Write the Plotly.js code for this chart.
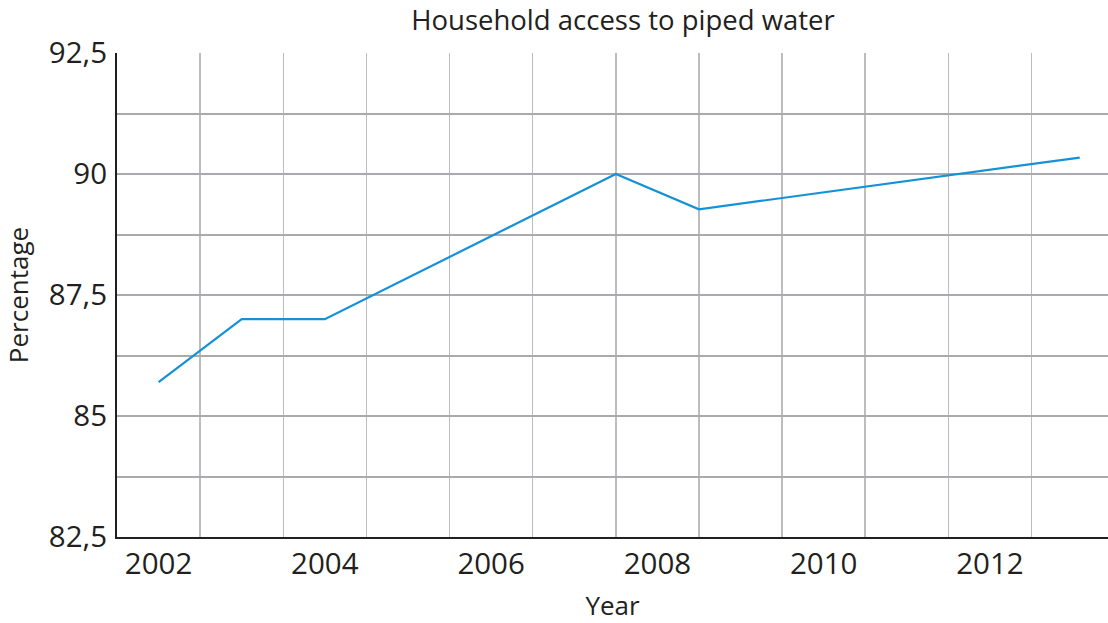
<!DOCTYPE html>
<html>
<head>
<meta charset="utf-8">
<script src="https://cdn.plot.ly/plotly-3.0.1.min.js"></script>
<style>
  html, body { margin: 0; padding: 0; background: #ffffff; }
  #chart { width: 1108px; height: 623px; }
</style>
</head>
<body>
<div id="chart"></div>
<script>
// Share of households with access to piped water, by survey year
const years = [2002, 2003, 2004, 2007.5, 2008.5, 2013.08];
const accessPct = [85.7, 87.0, 87.0, 90.0, 89.27, 90.34];

// Axis labelling
const xTickVals = [2002, 2004, 2006, 2008, 2010, 2012];
const xTickText = ['2002', '2004', '2006', '2008', '2010', '2012'];
const yTickVals = [82.5, 85, 87.5, 90, 92.5];
const yTickText = ['82,5', '85', '87,5', '90', '92,5'];

const ink = '#231f20';
const font = 'Open Sans, Noto Sans, sans-serif';

const trace = {
  x: years,
  y: accessPct,
  type: 'scatter',
  mode: 'lines',
  line: { color: '#1591d6', width: 2.2 },
  hoverinfo: 'x+y'
};

const layout = {
  width: 1108,
  height: 623,
  margin: { l: 117, r: 0, t: 53, b: 86, pad: 0 },
  paper_bgcolor: '#ffffff',
  plot_bgcolor: '#ffffff',
  showlegend: false,
  font: { family: font, color: ink },
  title: {
    text: 'Household access to piped water',
    font: { family: font, size: 27.5, color: ink },
    xref: 'container', yref: 'container',
    x: 623 / 1108, xanchor: 'center',
    y: 1 - 20 / 623, yanchor: 'middle'
  },
  xaxis: {
    range: [2001.5, 2013.42],
    tickmode: 'array',
    tickvals: xTickVals,
    ticktext: xTickText,
    ticks: '',
    ticklabelstandoff: 0,
    tickfont: { family: font, size: 29.5, color: ink },
    showgrid: false,
    zeroline: false,
    showline: true,
    linecolor: ink,
    linewidth: 2,
    minor: {
      tick0: 2001.5,
      dtick: 1,
      ticks: '',
      showgrid: true,
      gridcolor: '#bdbdbf',
      gridwidth: 1.5
    },
    title: {
      text: 'Year',
      font: { family: font, size: 26, color: ink },
      standoff: 20
    },
    automargin: false,
    fixedrange: true
  },
  yaxis: {
    range: [82.5, 92.5],
    tickmode: 'array',
    tickvals: yTickVals,
    ticktext: yTickText,
    ticks: '',
    ticklabelstandoff: 2,
    tickfont: { family: font, size: 29.5, color: ink },
    showgrid: true,
    gridcolor: '#aaaaae',
    gridwidth: 2,
    zeroline: false,
    showline: true,
    linecolor: ink,
    linewidth: 2,
    minor: {
      tick0: 82.5,
      dtick: 1.25,
      ticks: '',
      showgrid: true,
      gridcolor: '#aaaaae',
      gridwidth: 2
    },
    title: {
      text: 'Percentage',
      font: { family: font, size: 26, color: ink },
      standoff: 15
    },
    automargin: false,
    fixedrange: true
  }
};

Plotly.newPlot('chart', [trace], layout, { displayModeBar: false, staticPlot: true });
</script>
</body>
</html>
